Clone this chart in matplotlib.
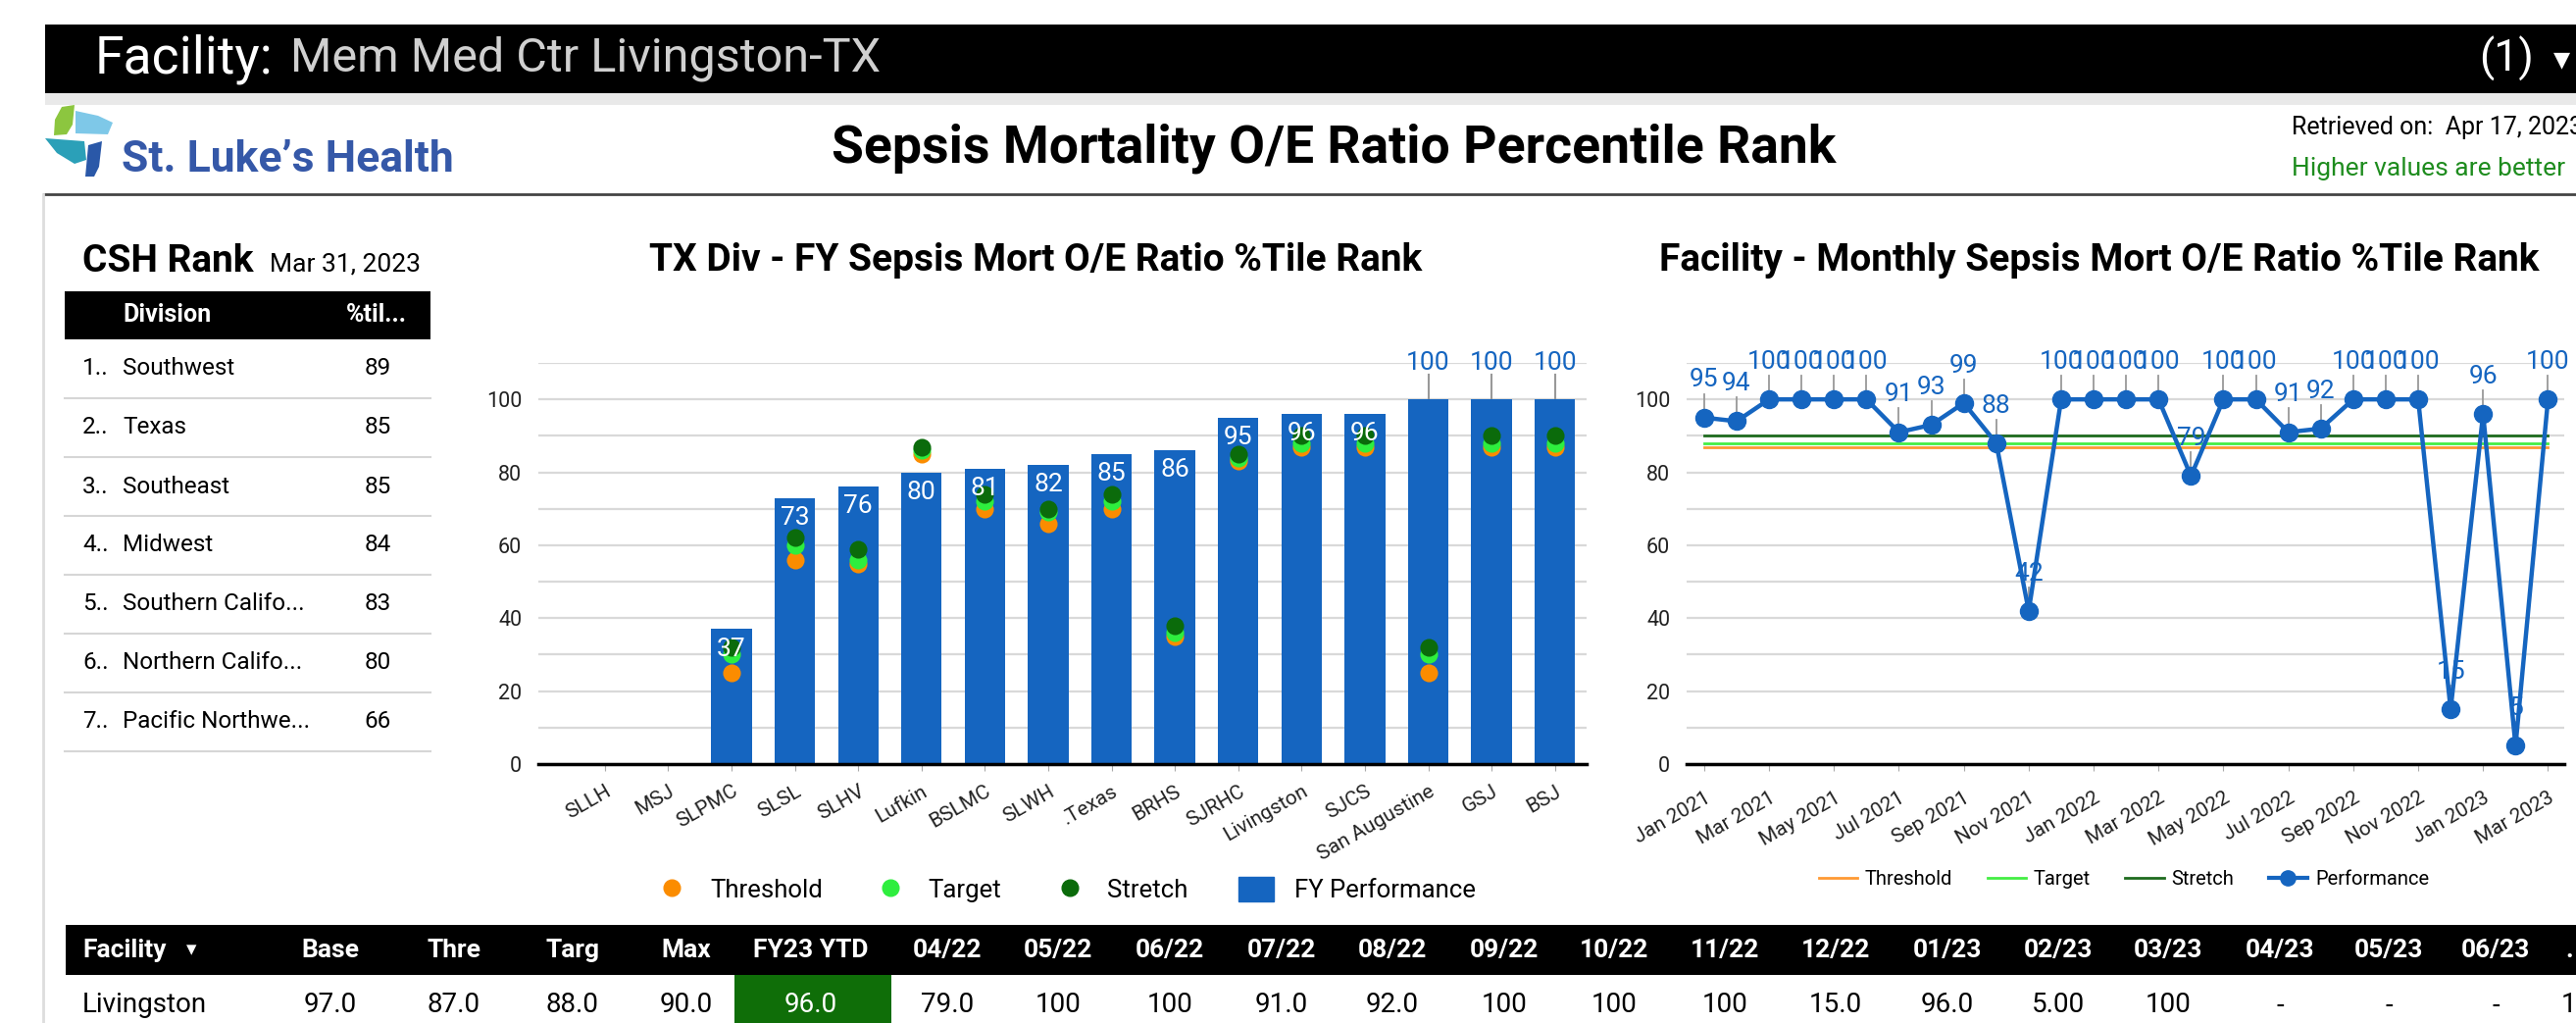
import numpy as np
import matplotlib
matplotlib.use("Agg")
import matplotlib.pyplot as plt
from matplotlib.patches import Rectangle, Polygon, Patch
from matplotlib.lines import Line2D

plt.rcParams['font.family'] = ['Roboto', 'DejaVu Sans']

# ---- data ----
facilities = ["SLLH", "MSJ", "SLPMC", "SLSL", "SLHV", "Lufkin", "BSLMC", "SLWH", ".Texas",
              "BRHS", "SJRHC", "Livingston", "SJCS", "San Augustine", "GSJ", "BSJ"]
fy_perf = [np.nan, np.nan, 37, 73, 76, 80, 81, 82, 85, 86, 95, 96, 96, 100, 100, 100]
fy_threshold = [np.nan, np.nan, 25, 56, 55, 85, 70, 66, 70, 35, 83, 87, 87, 25, 87, 87]
fy_target = [np.nan, np.nan, 30, 60, 56, 86, 72, 69, 72, 36, 84, 88, 88, 30, 88, 88]
fy_stretch = [np.nan, np.nan, 32, 62, 59, 87, 74, 70, 74, 38, 85, 90, 90, 32, 90, 90]

monthly_perf = [95, 94, 100, 100, 100, 100, 91, 93, 99, 88, 42, 100, 100, 100, 100,
                79, 100, 100, 91, 92, 100, 100, 100, 15, 96, 5, 100]
month_ticks = ["Jan 2021", "Mar 2021", "May 2021", "Jul 2021", "Sep 2021", "Nov 2021",
               "Jan 2022", "Mar 2022", "May 2022", "Jul 2022", "Sep 2022", "Nov 2022",
               "Jan 2023", "Mar 2023"]
fac_threshold = 87
fac_target = 88
fac_stretch = 90

divisions = ["Southwest", "Texas", "Southeast", "Midwest", "Southern Califo...",
             "Northern Califo...", "Pacific Northwe..."]
division_pct = [89, 85, 85, 84, 83, 80, 66]

table_cols = ["Base", "Thre", "Targ", "Max", "FY23 YTD", "04/22", "05/22", "06/22", "07/22",
              "08/22", "09/22", "10/22", "11/22", "12/22", "01/23", "02/23", "03/23",
              "04/23", "05/23", "06/23", "."]
table_vals = ["97.0", "87.0", "88.0", "90.0", "96.0", "79.0", "100", "100", "91.0",
              "92.0", "100", "100", "100", "15.0", "96.0", "5.00", "100",
              "-", "-", "-", "1"]

BLUE = "#1565C0"
ORANGE = "#FB8C00"
LGREEN = "#2EEE3E"
DGREEN = "#0B6B0B"

W, H = 2627, 1043
fig = plt.figure(figsize=(W / 100, H / 100), dpi=100)


def fx(x):
    return x / W


def fy(y):
    return 1 - y / H


def rect(x0, y0, x1, y1, color):
    fig.add_artist(Rectangle((fx(x0), fy(y1)), (x1 - x0) / W, (y1 - y0) / H,
                             transform=fig.transFigure, color=color, lw=0))


def hline(x0, x1, y, color, lw):
    fig.add_artist(Line2D([fx(x0), fx(x1)], [fy(y), fy(y)], transform=fig.transFigure,
                          color=color, lw=lw))


# ---- header ----
rect(46, 25, W, 95, "black")
rect(46, 95, W, 107, "#e9e9e9")
fig.text(fx(97), fy(60), "Facility:", color="white", fontsize=38.5, va="center")
fig.text(fx(296), fy(60), "Mem Med Ctr Livingston-TX", color="#d0d0d0", fontsize=35, va="center")
fig.text(fx(2528), fy(60), "(1)", color="white", fontsize=32, va="center")
fig.text(fx(2604), fy(62), "\u25bc", color="white", fontsize=16, va="center")

# logo mark
for pts, c in [([(56, 122), (63, 109), (76, 107), (74, 127), (68, 137), (55, 138)], "#8CC63F"),
               ([(77, 113), (100, 118), (115, 125), (110, 137), (77, 136)], "#7EC8E8"),
               ([(46, 141), (86, 144), (88, 163), (76, 167), (58, 156)], "#2BA0B8"),
               ([(90, 148), (104, 144), (101, 170), (96, 180), (87, 180)], "#2A58A8")]:
    fig.add_artist(Polygon([(fx(a), fy(b)) for a, b in pts], closed=True,
                           transform=fig.transFigure, color=c, lw=0))
fig.text(fx(124), fy(163), "St. Luke\u2019s Health", color="#3558A8", fontsize=32,
         fontweight="bold", va="center")

fig.text(fx(1360), fy(151), "Sepsis Mortality O/E Ratio Percentile Rank", fontsize=38.5,
         fontweight="bold", ha="center", va="center")
fig.text(fx(2337), fy(130), "Retrieved on:  Apr 17, 2023", fontsize=18, va="center")
fig.text(fx(2337), fy(172), "Higher values are better", fontsize=19, va="center",
         color="#1E8C1E")

hline(45, W, 198, "#444444", 2)
fig.add_artist(Line2D([fx(44), fx(44)], [fy(198), 0], transform=fig.transFigure,
                      color="#dddddd", lw=2))

# ---- CSH rank table ----
fig.text(fx(84), fy(277), "CSH Rank", fontsize=28, fontweight="bold", va="baseline")
fig.text(fx(275), fy(277), "Mar 31, 2023", fontsize=19, va="baseline")
rect(66, 297, 439, 346, "black")
fig.text(fx(125), fy(321), "Division", color="white", fontsize=18, fontweight="bold", va="center")
fig.text(fx(353), fy(321), "%til...", color="white", fontsize=18, fontweight="bold", va="center")
for i, (d, p) in enumerate(zip(divisions, division_pct)):
    yc = 376 + 60 * i
    fig.text(fx(84), fy(yc), f"{i + 1}..", fontsize=17.5, va="center")
    fig.text(fx(125), fy(yc), d, fontsize=17.5, va="center")
    fig.text(fx(385), fy(yc), str(p), fontsize=17.5, va="center", ha="center")
    hline(66, 439, yc + 30, "#d6d6d6", 1.5)

# ---- bar chart ----
ax1 = fig.add_axes([fx(549), fy(779), (1618 - 549) / W, (779 - 370) / H])
x = np.arange(len(facilities))
ax1.bar(x, fy_perf, width=0.64, color=BLUE, zorder=2)
ax1.scatter(x, fy_threshold, s=170, color=ORANGE, zorder=3, linewidths=0)
ax1.scatter(x, fy_target, s=170, color=LGREEN, zorder=3, linewidths=0)
ax1.scatter(x, fy_stretch, s=170, color=DGREEN, zorder=3, linewidths=0)
for xi, v in zip(x, fy_perf):
    if np.isnan(v):
        continue
    if v >= 100:
        ax1.plot([xi, xi], [v, v + 6.8], color="#999999", lw=1.5, zorder=1, clip_on=False)
        ax1.text(xi, v + 10, f"{v:.0f}", color=BLUE, fontsize=19, ha="center", va="center",
                 zorder=5)
    else:
        ax1.text(xi, v - 5.4, f"{v:.0f}", color="white", fontsize=19, ha="center",
                 va="center", zorder=5)
ax1.set_xlim(-1.05, 15.5)
ax1.set_ylim(0, 110)
ax1.set_yticks(np.arange(0, 111, 10))
ax1.set_yticklabels([str(v) if v % 20 == 0 and v <= 100 else "" for v in range(0, 111, 10)])
ax1.set_xticks(x)
ax1.set_xticklabels(facilities, rotation=30, ha="right", va="top", rotation_mode="anchor")
ax1.grid(axis="y", color="#d9d9d9", lw=1.6, zorder=0)
ax1.set_axisbelow(True)
for s in ["top", "right", "left"]:
    ax1.spines[s].set_visible(False)
ax1.spines["bottom"].set_linewidth(2.5)
ax1.spines["bottom"].set_zorder(6)
ax1.tick_params(axis="y", length=0, pad=12, labelsize=15.5, labelcolor="#222222")
ax1.tick_params(axis="x", length=5, color="#aaaaaa", pad=8, labelsize=15, labelcolor="#222222")
fig.text(fx(1056), fy(265), "TX Div - FY Sepsis Mort O/E Ratio %Tile Rank", fontsize=28,
         fontweight="bold", ha="center", va="center")
h1 = [Line2D([], [], ls="none", marker="o", ms=12, color=ORANGE, label="Threshold"),
      Line2D([], [], ls="none", marker="o", ms=12, color=LGREEN, label="Target"),
      Line2D([], [], ls="none", marker="o", ms=12, color=DGREEN, label="Stretch"),
      Patch(color=BLUE, label="FY Performance")]
fig.legend(handles=h1, ncol=4, loc="center", bbox_to_anchor=(fx(1086), fy(907)),
           frameon=False, fontsize=18.5, handlelength=1.4, handleheight=1.15,
           handletextpad=0.8, columnspacing=2.0)

# ---- line chart ----
ax2 = fig.add_axes([fx(1720), fy(779), (2615 - 1720) / W, (779 - 370) / H])
m = np.arange(len(monthly_perf))
ax2.plot(m, [fac_threshold] * len(m), color="#FF9933", lw=2, zorder=2)
ax2.plot(m, [fac_target] * len(m), color="#44EE44", lw=2, zorder=2)
ax2.plot(m, [fac_stretch] * len(m), color="#1E6B1E", lw=2, zorder=2)
ax2.plot(m, monthly_perf, color=BLUE, lw=3.2, marker="o", ms=13, zorder=4)
for mi, v in zip(m, monthly_perf):
    ax2.plot([mi, mi], [v, v + 6.5], color="#999999", lw=1.3, zorder=1, clip_on=False)
    ax2.text(mi, v + 10.3, f"{v}", color=BLUE, fontsize=19, ha="center", va="center", zorder=5)
ax2.set_xlim(-0.54, 26.5)
ax2.set_ylim(0, 110)
ax2.set_yticks(np.arange(0, 111, 10))
ax2.set_yticklabels([str(v) if v % 20 == 0 and v <= 100 else "" for v in range(0, 111, 10)])
ax2.set_xticks(m[::2])
ax2.set_xticklabels(month_ticks, rotation=30, ha="right", va="top", rotation_mode="anchor")
ax2.grid(axis="y", color="#d9d9d9", lw=1.6, zorder=0)
ax2.set_axisbelow(True)
for s in ["top", "right", "left"]:
    ax2.spines[s].set_visible(False)
ax2.spines["bottom"].set_linewidth(2.5)
ax2.tick_params(axis="y", length=0, pad=12, labelsize=15.5, labelcolor="#222222")
ax2.tick_params(axis="x", length=5, color="#aaaaaa", pad=13, labelsize=15, labelcolor="#222222")
fig.text(fx(2141), fy(265), "Facility - Monthly Sepsis Mort O/E Ratio %Tile Rank", fontsize=28,
         fontweight="bold", ha="center", va="center")
h2 = [Line2D([], [], color="#FF9933", lw=2, label="Threshold"),
      Line2D([], [], color="#44EE44", lw=2, label="Target"),
      Line2D([], [], color="#1E6B1E", lw=2, label="Stretch"),
      Line2D([], [], color=BLUE, lw=3, marker="o", ms=11, label="Performance")]
fig.legend(handles=h2, ncol=4, loc="center", bbox_to_anchor=(fx(2166), fy(897)),
           frameon=False, fontsize=14.5, handlelength=1.95, handletextpad=0.4,
           columnspacing=1.75)

# ---- bottom table ----
col_x = [337, 463, 584, 700, 827, 966, 1079, 1193, 1307, 1420, 1534, 1646, 1759, 1872,
         1986, 2099, 2211, 2325, 2436, 2545, 2620]
rect(67, 943, W, 994, "black")
rect(749, 994, 909, H, "#0F6E08")
fig.text(fx(84), fy(969), "Facility", color="white", fontsize=19, fontweight="bold", va="center")
fig.text(fx(195), fy(969), "\u25be", color="white", fontsize=15, ha="center", va="center")
fig.text(fx(84), fy(1025), "Livingston", fontsize=20, va="center")
for cx, c, v in zip(col_x, table_cols, table_vals):
    fig.text(fx(cx), fy(969), c, color="white", fontsize=19, fontweight="bold",
             ha="center", va="center")
    fig.text(fx(cx), fy(1025), v, fontsize=20, ha="center", va="center",
             color="white" if c == "FY23 YTD" else "black")

fig.savefig("out.png", dpi=100, facecolor="white")
